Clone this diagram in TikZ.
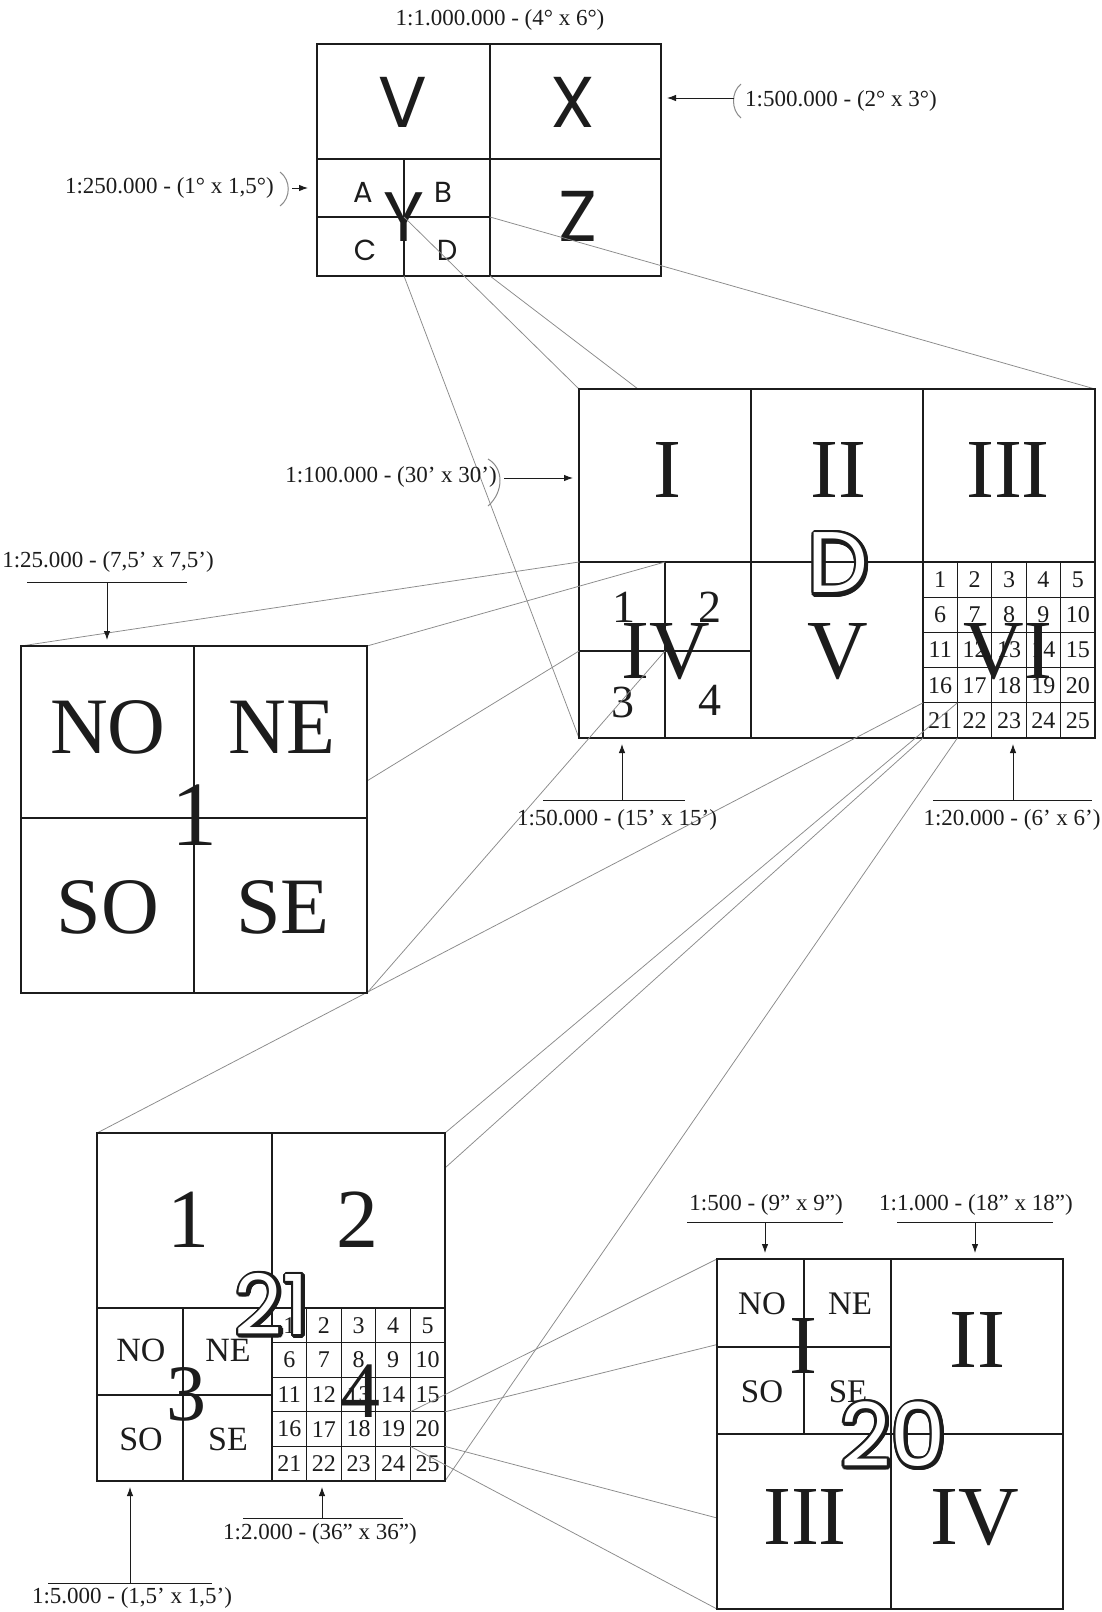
\documentclass[tikz,border=0pt]{standalone}
\usepackage{fontspec}
\setmainfont{Liberation Serif}
\newfontfamily\gothic{Poppins}
\usetikzlibrary{arrows.meta,calc}
\definecolor{ink}{HTML}{1C1C1C}
\definecolor{haze}{HTML}{8A8A8A}
\newcommand\fsz[1]{\fontsize{#1}{#1}\selectfont}
% outlined sheet number: dark copies round a white one
\newcommand\hollow[4]{%
  \foreach \a in {0,22.5,...,337.5}
    \node[hollowtxt,font=\gothic\fsz{#3},text=ink]
      at ($(#2)+(\a:3.3)+(1,1)$) {#4};
  \node[hollowtxt,font=\gothic\fsz{#3},text=white] (#1) at (#2) {#4};}

\begin{document}
\begin{tikzpicture}[x=1pt,y=-1pt,text=ink,
    >={Latex[length=9pt,width=6.5pt]},
    sheet/.style={draw=ink,line width=1.4pt,fill=white},
    slot/.style={inner sep=0pt,outer sep=0pt},
    divl/.style={draw=ink,line width=1.1pt},
    gline/.style={draw=ink,line width=0.8pt},
    ray/.style={draw=haze,line width=0.75pt},
    brk/.style={draw=haze,line width=1pt},
    esc/.style={font=\fsz{23},inner sep=0pt},
    lead/.style={->,draw=ink,line width=0.9pt,shorten >=6pt},
    rul/.style={draw=ink,line width=0.9pt},
    rom/.style={font=\fsz{84},inner sep=0pt},
    big/.style={font=\fsz{80},inner sep=0pt},
    quart/.style={font=\fsz{34},inner sep=0pt},
    num/.style={font=\fsz{24},inner sep=0pt},
    gbig/.style={font=\gothic\fsz{72},inner sep=0pt},
    gsmall/.style={font=\gothic\fsz{29},inner sep=0pt},
    hollowtxt/.style={inner sep=0pt}]

  \useasboundingbox (0,0) rectangle (1102,1612);
  \fill[white] (0,0) rectangle (1102,1612);

  % sheet frames (outlines drawn further down)
  \node[slot,minimum width=344,minimum height=232] (sh1m) at (489,160) {};
  \node[slot,minimum width=516,minimum height=349] (sh100k) at (837,563.5) {};
  \node[slot,minimum width=346,minimum height=347] (sh25k) at (194,819.5) {};
  \node[slot,minimum width=348,minimum height=348] (sh20k) at (271,1307) {};
  \node[slot,minimum width=346,minimum height=350] (sh2k) at (890,1434) {};
  % cells that are enlarged
  \node[slot,minimum width=86,minimum height=59] (cD) at (447,246.5) {};
  \node[slot,minimum width=86,minimum height=89] (c1) at (622,606.5) {};
  \node[slot,minimum width=34.4,minimum height=35.2] (c21) at (940.2,720.4) {};
  \node[slot,minimum width=34.6,minimum height=34.6] (c20) at (427.7,1429.1) {};

  % 1:1.000.000
  \draw[sheet] (sh1m.north west) rectangle (sh1m.south east);
  \draw[divl] (490,44) -- (490,276) (317,159) -- (661,159)
    (404,159) -- (404,276) (317,217) -- (490,217);
  \node[gbig] (gV) at (403,102) {V};
  \node[gbig] (gX) at (573,102) {X};
  \node[gbig] (gZ) at (578,216) {Z};
  \foreach \t/\x/\y in {A/363/192,B/443/192,C/365/250,D/447/250}
    \node[gsmall] (g\t) at (\x,\y) {\t};
  \node[font=\gothic\fsz{70},inner sep=0pt] (gY) at (404,217) {Y};

  \foreach \k in {north west,north east,south west,south east}
    \draw[ray] (cD.\k) -- (sh100k.\k);

  % 1:100.000
  \draw[sheet] (sh100k.north west) rectangle (sh100k.south east);
  \draw[divl] (751,389) -- (751,738) (923,389) -- (923,738)
    (579,562) -- (1095,562) (665,562) -- (665,738) (579,651) -- (751,651);
  \foreach \i in {1,...,4}
    \draw[gline] (923+34.4*\i,562) -- (923+34.4*\i,738)
      (923,562+35.2*\i) -- (1095,562+35.2*\i);
  \foreach \r in {0,...,4}
    \foreach \c in {1,...,5}{
      \pgfmathtruncatemacro\n{5*\r+\c}
      \node[num] (vi-\n) at (905.8+34.4*\c,579.6+35.2*\r) {\n};
    }
  \foreach \t/\x/\y in {1/624/607,2/710/607,3/623/702,4/710/700}
    \node[font=\fsz{46},inner sep=0pt] (q50k-\t) at (\x,\y) {\t};
  \foreach \t/\x/\y in {I/667/470,II/838/470,III/1008/470,
                        IV/666/652,V/838/652,VI/1008/652}
    \node[rom] (r100k-\t) at (\x,\y) {\t};
  \hollow{hD}{838,563}{86}{D}

  \foreach \k in {north west,north east,south west,south east}{
    \draw[ray] (c1.\k) -- (sh25k.\k);
    \draw[ray] (c21.\k) -- (sh20k.\k);
  }

  % 1:25.000
  \draw[sheet] (sh25k.north west) rectangle (sh25k.south east);
  \draw[divl] (194,646) -- (194,993) (21,818) -- (367,818);
  \foreach \t/\x/\y in {NO/108/727,NE/282/727,SO/108/907,SE/283/907}
    \node[big] (q25k-\t) at (\x,\y) {\t};
  \node[font=\fsz{92},inner sep=0pt] (n25k) at (194,815) {1};

  % 1:20.000 sheet 21
  \draw[sheet] (sh20k.north west) rectangle (sh20k.south east);
  \draw[divl] (272,1133) -- (272,1481) (97,1308) -- (445,1308)
    (183,1308) -- (183,1481) (97,1395) -- (272,1395);
  \foreach \i in {1,...,4}
    \draw[gline] (272+34.6*\i,1308) -- (272+34.6*\i,1481)
      (272,1308+34.6*\i) -- (445,1308+34.6*\i);
  \foreach \r in {0,...,4}
    \foreach \c in {1,...,5}{
      \pgfmathtruncatemacro\n{5*\r+\c}
      \node[num] (s2k-\n) at (254.7+34.6*\c,1325.3+34.6*\r) {\n};
    }
  \foreach \t/\x/\y in {1/188/1220,2/357/1220}
    \node[rom] (p20k-\t) at (\x,\y) {\t};
  \foreach \t/\x/\y in {NO/141/1350,NE/228/1350,SO/141/1439,SE/228/1439}
    \node[quart] (s5k-\t) at (\x,\y) {\t};
  \node[big] (p20k-3) at (186,1394) {3};
  \node[big] (p20k-4) at (360,1391) {4};
  \hollow{h21}{272,1304}{83}{21}

  \foreach \k in {north west,north east,south west,south east}
    \draw[ray] (c20.\k) -- (sh2k.\k);

  % 1:2.000 sheet 20
  \draw[sheet] (sh2k.north west) rectangle (sh2k.south east);
  \draw[divl] (891,1259) -- (891,1609) (717,1434) -- (1063,1434)
    (804,1259) -- (804,1434) (717,1347) -- (891,1347);
  \foreach \t/\x/\y in {NO/762/1304,NE/850/1304,SO/762/1392,SE/848/1392}
    \node[font=\fsz{33},inner sep=0pt] (s500-\t) at (\x,\y) {\t};
  \foreach \t/\x/\y in {I/803/1346,II/977/1340,III/805/1517,IV/975/1518}
    \node[rom] (s1k-\t) at (\x,\y) {\t};
  \hollow{h20}{893,1434}{88}{20}

  % scale labels
  \node[esc] (t1m) at (500,20) {1:1.000.000 - (4° x 6°)};

  \node[esc,anchor=west] (t500k) at (745,101) {1:500.000 - (2° x 3°)};
  \draw[brk] (741,84) .. controls (731,92) and (731,110) .. (741,118);
  \coordinate (a500k) at (734,98);
  \draw[lead] (a500k) -- (a500k -| sh1m.east);

  \node[esc,anchor=east] (t250k) at (274,188) {1:250.000 - (1° x 1,5°)};
  \draw[brk] (280,172) .. controls (291,180) and (291,198) .. (280,206);
  \coordinate (a250k) at (292,188);
  \draw[lead,shorten >=9pt] (a250k) -- (a250k -| sh1m.west);

  \node[esc,anchor=east] (t100k) at (497,477) {1:100.000 - (30' x 30')};
  \draw[brk] (488,459) .. controls (504,468) and (504,492) .. (488,506);
  \coordinate (a100k) at (504,478);
  \draw[lead] (a100k) -- (a100k -| sh100k.west);

  \node[esc] (t25k) at (108,562) {1:25.000 - (7,5' x 7,5')};
  \draw[rul] (27,582) -- (187,582);
  \coordinate (a25k) at (107,582);
  \draw[lead] (a25k) -- (a25k |- sh25k.north);

  \node[esc] (t50k) at (617,820) {1:50.000 - (15' x 15')};
  \draw[rul] (543,800) -- (685,800);
  \coordinate (a50k) at (622,800);
  \draw[lead] (a50k) -- (a50k |- sh100k.south);

  \node[esc] (t20k) at (1012,820) {1:20.000 - (6' x 6')};
  \draw[rul] (933,800) -- (1092,800);
  \coordinate (a20k) at (1013,800);
  \draw[lead] (a20k) -- (a20k |- sh100k.south);

  \node[esc] (t2k) at (320,1534) {1:2.000 - (36" x 36")};
  \draw[rul] (243,1518) -- (403,1518);
  \coordinate (a2k) at (322,1518);
  \draw[lead] (a2k) -- (a2k |- sh20k.south);

  \node[esc] (t5k) at (132,1598) {1:5.000 - (1,5' x 1,5')};
  \draw[rul] (48,1583) -- (212,1583);
  \coordinate (a5k) at (130,1583);
  \draw[lead] (a5k) -- (a5k |- sh20k.south);

  \node[esc] (t500) at (766,1205) {1:500 - (9" x 9")};
  \draw[rul] (687,1222) -- (843,1222);
  \coordinate (a500) at (765,1222);
  \draw[lead] (a500) -- (a500 |- sh2k.north);

  \node[esc] (t1k) at (976,1205) {1:1.000 - (18" x 18")};
  \draw[rul] (897,1222) -- (1053,1222);
  \coordinate (a1k) at (975,1222);
  \draw[lead] (a1k) -- (a1k |- sh2k.north);
\end{tikzpicture}
\end{document}
